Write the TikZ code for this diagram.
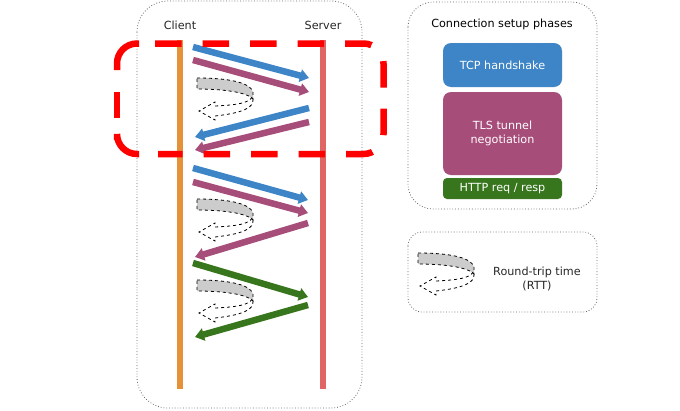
\documentclass[tikz,border=0pt]{standalone}
\usepackage{fontspec}
\setmainfont{DejaVu Sans}
\usepackage{tikz}
\usetikzlibrary{arrows.meta}

\definecolor{tcpblue}{HTML}{3D85C6}
\definecolor{tlspurple}{HTML}{A64D79}
\definecolor{httpgreen}{HTML}{38761D}
\definecolor{clientorange}{HTML}{E69138}
\definecolor{serverred}{HTML}{E06666}

\begin{document}
\begin{tikzpicture}[x=1pt,y=-1pt,
  msg/.style={line width=6.5pt,-{Triangle[width=12.5pt,length=9pt]}},
  phase/.style={draw=white!70!black,dotted,rounded corners=8pt,minimum width=119pt,inner sep=0pt,text=white,align=center,font=\fontsize{11.2}{13.5}\selectfont},
  lbl/.style={font=\fontsize{11.2}{13.5}\selectfont,text=black!85},
  hilite/.style={red,line width=6.5pt},
  rttloop/.pic={
    \draw[dashed,line width=0.8pt,fill=black!20] (0,0) .. controls (30,0) and (53,4) .. (56,14) -- (56,21) .. controls (50,14) and (25,11) .. (0,11) -- cycle;
    \draw[dashed,line width=0.8pt] (55,19) .. controls (52,25) and (40,27) .. (18,28) -- (18,24) -- (2,33) -- (18,42) -- (18,38) .. controls (45,35) and (57,30) .. (56,21);
  }]
  \useasboundingbox (0,0) rectangle (680,410);

  % main box with the two lifelines
  \draw[black!60,dotted,line width=0.8pt,rounded corners=31pt] (137,1) rectangle (362,408);
  \node(client)[lbl] at (180,25) {Client};
  \node(server)[lbl] at (323,25) {Server};
  \coordinate (ctop) at (180,40);
  \coordinate (cbot) at (180,389);
  \coordinate (stop) at (323,40);
  \coordinate (sbot) at (323,389);
  \draw[clientorange,line width=6pt] (ctop) -- (cbot);
  \draw[serverred,line width=6pt] (stop) -- (sbot);

  % message ends
  \coordinate (a1) at (193,47);  \coordinate (b1) at (309,78);
  \coordinate (a2) at (193,60);  \coordinate (b2) at (309,92);
  \coordinate (b3) at (309,108); \coordinate (a3) at (195,137);
  \coordinate (b4) at (309,122); \coordinate (a4) at (195,150);
  \coordinate (a5) at (193,168); \coordinate (b5) at (308,200);
  \coordinate (a6) at (193,182); \coordinate (b6) at (308,213);
  \coordinate (b7) at (308,223); \coordinate (a7) at (195,257);
  \coordinate (a8) at (193,263); \coordinate (b8) at (308,297);
  \coordinate (b9) at (308,305); \coordinate (a9) at (195,337);

  \draw[msg,tcpblue] (a1) -- (b1);
  \draw[msg,tlspurple] (a2) -- (b2);
  \draw[msg,tcpblue] (b3) -- (a3);
  \draw[msg,tlspurple] (b4) -- (a4);
  \draw[msg,tcpblue] (a5) -- (b5);
  \draw[msg,tlspurple] (a6) -- (b6);
  \draw[msg,tlspurple] (b7) -- (a7);
  \draw[msg,httpgreen] (a8) -- (b8);
  \draw[msg,httpgreen] (b9) -- (a9);

  \pic at (197,78) {rttloop};
  \pic at (197,199) {rttloop};
  \pic at (197,280) {rttloop};

  % first connection highlighted
  \draw[hilite,dash pattern=on 26.5pt off 21pt,rounded corners=20pt] (155,43.5) -- (383.5,43.5) -- (383.5,154) -- (158,154);
  \draw[hilite] (139,43.5) -- (137,43.5) arc[start angle=270,end angle=180,radius=20] -- (117,70);
  \draw[hilite] (117,92) -- (117,118);
  \draw[hilite] (117,140) -- (117,134) arc[start angle=180,end angle=90,radius=20] -- (139,154);

  % legend of the phases
  \draw[black!60,dotted,line width=0.8pt,rounded corners=25pt] (408,2) rectangle (597,209);
  \node(title)[lbl,text=black] at (502,24) {Connection setup phases};
  \node(tcp)[phase,fill=tcpblue,minimum height=44pt] at (502.5,65) {TCP handshake};
  \node(tls)[phase,fill=tlspurple,minimum height=83pt] at (502.5,133.5) {TLS tunnel\\negotiation};
  \node(http)[phase,fill=httpgreen,minimum height=21pt,rounded corners=4pt] at (502.5,188.5) {HTTP req / resp};

  % legend of the round trip
  \draw[black!60,dotted,line width=0.8pt,rounded corners=14pt] (408,232) rectangle (597,312);
  \pic at (418,253) {rttloop};
  \node(rtt)[lbl,align=center] at (537,279) {Round-trip time\\(RTT)};
\end{tikzpicture}
\end{document}
